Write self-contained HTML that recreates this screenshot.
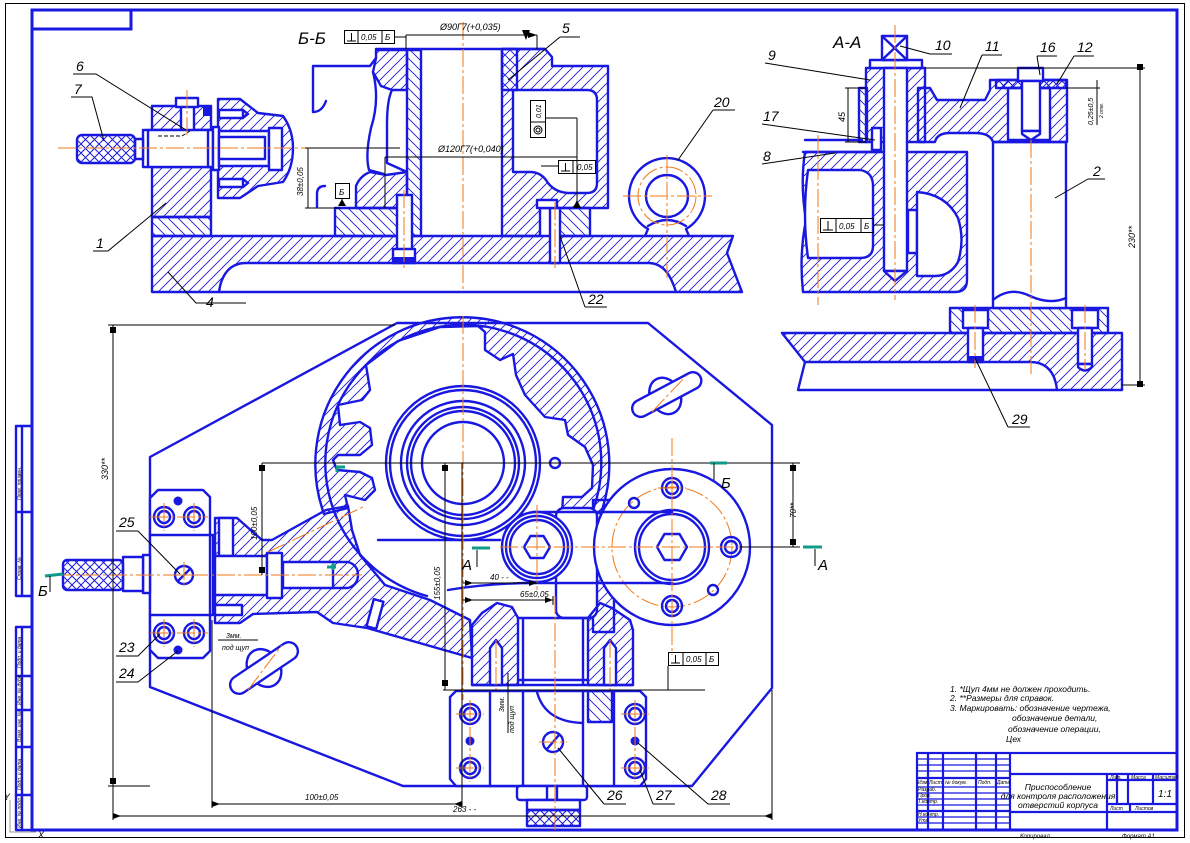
<!DOCTYPE html>
<html><head><meta charset="utf-8">
<style>
html,body{margin:0;padding:0;background:#fff}
svg{display:block}
.b{fill:none;stroke:#1818e0;stroke-width:2.4;stroke-linejoin:round;stroke-linecap:round}
.w{fill:#fff;stroke:#1818e0;stroke-width:2.4;stroke-linejoin:round}
.h{fill:url(#h1);stroke:#1818e0;stroke-width:2.4;stroke-linejoin:round}
.g{fill:url(#h2);stroke:#1818e0;stroke-width:2.4;stroke-linejoin:round}
.x{fill:url(#xx);stroke:#1818e0;stroke-width:2.4;stroke-linejoin:round}
.k{fill:none;stroke:#000;stroke-width:1}
.c{fill:none;stroke:#f07a1a;stroke-width:1;stroke-dasharray:18 3 3 3}
.t{stroke:#109a8a;stroke-width:3;fill:none}
text{font-family:"Liberation Sans","DejaVu Sans",sans-serif;font-style:italic;fill:#000}
.n{font-size:14px}
.s{font-size:8px}
</style></head><body>
<svg width="1190" height="843" viewBox="0 0 1190 843" xmlns="http://www.w3.org/2000/svg">
<defs>
<pattern id="h1" width="10" height="10" patternUnits="userSpaceOnUse"><path d="M-1,11 L11,-1 M-1,1 L1,-1 M9,11 L11,9" stroke="#1818e0" stroke-width="0.9"/></pattern>
<pattern id="h2" width="10" height="10" patternUnits="userSpaceOnUse"><path d="M-1,-1 L11,11 M9,-1 L11,1 M-1,9 L1,11" stroke="#1818e0" stroke-width="0.9"/></pattern>
<pattern id="xx" width="9" height="9" patternUnits="userSpaceOnUse"><path d="M0,0 L9,9 M9,0 L0,9" stroke="#1818e0" stroke-width="1"/></pattern>
</defs>
<rect width="1190" height="843" fill="#fff"/>

<!-- frames -->
<rect x="5.5" y="3.5" width="1179" height="834" class="k"/>
<rect x="32" y="10" width="1145" height="820" fill="none" stroke="#1818e0" stroke-width="3"/>
<path d="M32,29 H131 V10" fill="none" stroke="#1818e0" stroke-width="3"/>
<!-- left sidebar -->
<rect x="16" y="426" width="16" height="170" class="b"/>
<path class="b" d="M22,426 V596 M16,512 H32"/>
<rect x="16" y="627" width="16" height="203" class="b"/>
<path class="b" d="M22,627 V830 M16,676 H32 M16,710 H32 M16,747 H32 M16,795 H32"/>
<text transform="translate(21,500) rotate(-90)" font-size="5">Перв. примен.</text>
<text transform="translate(21,580) rotate(-90)" font-size="5">Справ. №</text>
<text transform="translate(21,668) rotate(-90)" font-size="5">Подп. и дата</text>
<text transform="translate(21,705) rotate(-90)" font-size="5">Инв. № дубл.</text>
<text transform="translate(21,742) rotate(-90)" font-size="5">Взам. инв. №</text>
<text transform="translate(21,790) rotate(-90)" font-size="5">Подп. и дата</text>
<text transform="translate(21,828) rotate(-90)" font-size="5">Инв. № подл.</text>
<path d="M10,800 V832 H36" fill="none" stroke="#999" stroke-width="1"/>
<text x="4" y="800" font-size="9" fill="#888" font-style="normal">Y</text>
<text x="38" y="838" font-size="9" fill="#888" font-style="normal">X</text>

<!-- ================= Section Б-Б ================= -->
<path class="h" d="M152,236 H733 L727,253 L742,292 H676 C671,276 664,263 648,263 H246 C229,263 221,276 219,292 H152 Z"/>
<path class="b" d="M219,292 H676"/>
<rect class="h" x="152" y="167" width="59" height="50"/>
<rect class="g" x="152" y="217" width="59" height="19"/>
<rect class="h" x="152" y="106" width="59" height="24"/>
<rect class="w" x="181" y="106" width="13" height="28"/>
<rect class="w" x="176" y="98" width="22" height="9"/>
<rect x="203" y="107" width="8" height="9" fill="#1818e0"/>
<rect class="w" x="143" y="130" width="70" height="37"/>
<path class="b" d="M148,130 V167 M208,130 V167"/>
<path d="M158,136 H182 L190,131" stroke="#000" stroke-dasharray="4 2" fill="none"/>
<rect class="w" x="135" y="139" width="8" height="20"/>
<rect class="x" x="77" y="135" width="58" height="28" rx="5"/>
<path class="h" d="M218,99 H240 L258,113 L283,116 Q293,130 293,148 Q293,168 283,182 L258,186 L240,198 H218 Z"/>
<rect class="w" x="213" y="127" width="6" height="43"/>
<rect class="w" x="219" y="131" width="50" height="35"/>
<rect class="w" x="219" y="137" width="46" height="22"/>
<rect class="w" x="219" y="110" width="24" height="8"/>
<rect class="w" x="219" y="179" width="24" height="8"/>
<path class="b" d="M243,110 L248,114 L243,118 M243,179 L248,183 L243,187"/>
<rect class="w" x="269" y="128" width="13" height="42"/>
<!-- left housing -->
<path class="h" d="M376,50 H407 V90 H392 L381,86 L373,72 L376,58 Z"/>
<path class="b" d="M313,112 V66 H370 L376,58"/>
<path class="b" d="M313,112 Q322,112 326,101"/>
<path class="b" d="M373,72 Q380,100 371,128 Q365,155 369,170 L384,174"/>
<path class="b" d="M392,90 Q387,100 387,125 V163 L407,172"/>
<path class="h" d="M356,208 V186 Q360,176 370,172 L386,175 L407,172 V208 Z"/>
<rect class="g" x="335" y="208" width="72" height="28"/>
<rect class="g" x="407" y="50" width="14" height="186"/>
<path class="b" d="M376,49 H545"/>
<!-- right housing -->
<path class="h" fill-rule="evenodd" d="M502,49 H545 L552,57 V66 H608 V208 H540 V236 H502 Z M513,90 H587 Q597,90 597,100 V183 Q597,193 587,193 H568 Q553,192 546,180 Q540,172 530,172 H513 Z"/>
<rect class="g" x="502" y="49" width="15" height="41"/>
<rect class="g" x="555" y="208" width="35" height="28"/>
<rect class="w" x="550" y="208" width="10" height="55"/>
<rect class="w" x="537" y="200" width="20" height="8"/>
<rect class="w" x="397" y="195" width="15" height="55"/>
<rect class="w" x="393" y="249" width="22" height="14"/>
<rect x="393" y="257" width="22" height="6" fill="#1818e0"/>
<!-- eyebolt -->
<path class="b" d="M648,229 A38,38 0 1,1 686,229 M648,229 L645,236 M686,229 L689,236 M648,226 Q667,214 686,226"/>
<circle class="b" cx="667" cy="196" r="21"/>
<circle class="c" cx="667" cy="196" r="29"/>
<!-- centerlines -->
<path class="c" d="M58,148 H400 M463,22 V292 M623,196 H712 M667,155 V278 M187,90 V138 M404,190 V268 M555,202 V268"/>
<!-- dims Б-Б -->
<path class="k" d="M406,35 H537 M406,35 V49 M537,35 V49 M395,37 H406"/>
<path d="M528,32 L537,35 L528,38 Z M522,30 L530,30 L526,40 Z" fill="#000"/>
<rect class="k" x="344.5" y="30.5" width="50" height="13"/>
<path class="k" d="M358,30 V43 M382,30 V43 M347,41 H356 M351.5,33 V41"/>
<text x="361" y="40" class="s">0,05</text><text x="385" y="40" class="s">Б</text>
<text x="440" y="30" font-size="9">Ø90Г7(+0,035)</text>
<text x="438" y="152" font-size="9">Ø120Г7(+0,040)</text>
<path class="k" d="M385,157 H577 M385,157 V208 M577,118 V205 M546,118 H577 M541,166 H558"/>
<path d="M573,208 L577,200 L581,208 Z M338,206 L342,199 L346,206 Z" fill="#000"/>
<rect class="k" x="530.5" y="100.5" width="15" height="37"/>
<path class="k" d="M530,122 H546"/>
<circle class="k" cx="538" cy="130" r="4"/><circle class="k" cx="538" cy="130" r="2"/>
<text transform="translate(541,118) rotate(-90)" font-size="7">0,01</text>
<rect class="k" x="558.5" y="160.5" width="37" height="13"/>
<path class="k" d="M573,160 V173 M561,171 H570 M565.5,163 V171"/>
<text x="577" y="170" class="s">0,05</text>
<path class="k" d="M308,148 V208 M305,148 H400 M305,208 H340"/>
<text transform="translate(303,196) rotate(-90)" font-size="8">38±0,05</text>
<rect class="k" x="335.5" y="183.5" width="14" height="15"/>
<text x="339" y="195" class="s">Б</text>
<path class="k" d="M342,199 V206"/>
<path class="b" d="M325,186 Q317,186 317,194 V207"/>
<text x="298" y="44" font-size="17" font-style="normal">Б-Б</text>
<!-- labels Б-Б -->
<text x="76" y="71" class="n">6</text><path class="k" d="M73,74 H96 L186,130"/>
<text x="74" y="94" class="n">7</text><path class="k" d="M71,97 H92 L104,141"/>
<text x="96" y="248" class="n">1</text><path class="k" d="M93,251 H108 L166,203"/>
<text x="206" y="307" class="n">4</text><path class="k" d="M168,272 L196,303 H246"/>
<text x="562" y="33" class="n">5</text><path class="k" d="M560,37 H580 M560,37 L508,80"/>
<text x="714" y="107" class="n">20</text><path class="k" d="M713,110 H735 M713,110 L678,160"/>
<text x="588" y="304" class="n">22</text><path class="k" d="M585,307 H607 M585,307 L560,236"/>

<!-- ================= Section А-А ================= -->
<path class="h" d="M782,333 H1122 V390 H1057 Q1054,362 1030,362 H805 Z"/>
<path class="b" d="M805,362 L798,390 H1057"/>
<rect class="g" x="950" y="308" width="158" height="25"/>
<rect class="w" x="993" y="142" width="73" height="166"/>
<path class="b" d="M993,300 Q1010,286 1030,296 Q1050,305 1066,298"/>
<rect class="w" x="963" y="310" width="25" height="18"/><rect class="w" x="968" y="328" width="15" height="34"/><rect x="968" y="356" width="15" height="6" fill="#1818e0"/>
<rect class="w" x="1072" y="310" width="26" height="18"/><rect class="w" x="1078" y="328" width="14" height="36"/><path class="w" d="M1078,364 H1092 V367 Q1085,374 1078,367 Z"/>
<!-- workpiece -->
<path class="h" d="M805,152 H967 V280 Q967,292 955,292 H803 Q799,255 806,220 Q800,185 805,152 Z"/>
<path class="w" d="M808,170 H860 Q873,172 873,186 V246 Q873,258 860,258 H808 Q802,214 808,170 Z"/>
<rect class="w" x="908" y="210" width="9" height="43"/>
<path class="w" d="M917,192 Q946,194 958,218 Q965,240 958,262 Q950,276 935,276 H917 Z"/>
<path class="b" d="M805,140 H862 M803,152 H880"/>
<!-- part 11 -->
<path class="h" d="M918,88 H930 L937,100 H985 L990,90 V80 H1067 V142 H993 Q990,133 975,133 H950 Q937,133 935,142 H918 Z"/>
<rect class="w" x="1008" y="88" width="42" height="52"/>
<rect class="x" x="996" y="80" width="70" height="8"/>
<rect class="w" x="1018" y="68" width="25" height="13"/>
<rect class="w" x="1022" y="81" width="18" height="50"/>
<path class="w" d="M1022,131 H1040 V134 L1031,140 L1022,134 Z"/>
<!-- bushing 9 & pin -->
<rect class="h" x="866" y="68" width="59" height="74"/>
<rect class="g" x="859" y="88" width="8" height="54"/>
<rect class="w" x="870" y="60" width="52" height="8"/>
<rect class="w" x="882" y="36" width="25" height="24"/>
<path class="b" d="M882,36 L907,60 M907,36 L882,60"/>
<rect class="w" x="884" y="68" width="23" height="203"/>
<path class="w" d="M884,271 H907 L895,281 Z"/>
<rect class="w" x="872" y="128" width="9" height="22"/>
<path class="c" d="M895,25 V300 M1031,140 V375 M818,135 V305 M975,305 V368 M1085,305 V370"/>
<!-- dims A-A -->
<path class="k" d="M925,68 H1145 M1140,68 V385 M1122,385 H1145 M845,88 H866 M845,142 H866 M848,88 V142 M1066,88 H1100 M1097,80 V125"/>
<rect x="1137" y="64" width="6" height="6" fill="#000"/><rect x="1137" y="381" width="6" height="6" fill="#000"/>
<text transform="translate(1135,248) rotate(-90)" font-size="9">230**</text>
<text transform="translate(845,122) rotate(-90)" font-size="9">45</text>
<text transform="translate(1093,125) rotate(-90)" font-size="7">0,25±0,5</text>
<text transform="translate(1103,118) rotate(-90)" font-size="5">2 отв.</text>
<rect class="k" x="820.5" y="218.5" width="53" height="14"/>
<path class="k" d="M836,218 V232 M861,218 V232 M873,225 H884 M823,230 H833 M828,221 V230"/>
<text x="839" y="229" class="s">0,05</text><text x="864" y="229" class="s">Б</text>
<text x="833" y="48" font-size="17" font-style="normal">А-А</text>
<!-- labels A-A -->
<text x="768" y="60" class="n">9</text><path class="k" d="M765,63 L870,80"/>
<text x="935" y="50" class="n">10</text><path class="k" d="M930,54 H952 M930,54 L900,46"/>
<text x="985" y="51" class="n">11</text><path class="k" d="M982,55 H1002 M982,55 L960,108"/>
<text x="1040" y="52" class="n">16</text><path class="k" d="M1037,56 H1057 M1037,56 L1040,75"/>
<text x="1077" y="52" class="n">12</text><path class="k" d="M1074,56 H1094 M1074,56 L1057,84"/>
<text x="763" y="121" class="n">17</text><path class="k" d="M762,124 L875,140"/>
<text x="763" y="161" class="n">8</text><path class="k" d="M762,164 L835,153"/>
<text x="1093" y="176" class="n">2</text><path class="k" d="M1088,179 H1105 M1088,179 L1055,198"/>
<text x="1012" y="424" class="n">29</text><path class="k" d="M1008,427 H1030 M1008,427 L975,358"/>

<!-- ================= Plan view ================= -->
<path class="b" d="M150,457 L397,323 H648 L772,425 V688 L692,786 H403 L150,687 Z"/>
<!-- arm -->
<path class="h" d="M215,518 H237 L262,540 L272,540 L326,510 L348,506 L352,530 L360,555 L385,585 L430,600 L470,620 L472,658 L367,628 L333,623 L317,612 L253,614 L240,623 H215 Z"/>
<!-- housing band -->
<path class="h" d="M324,514 A147,147 0 1,1 601,513 L562,513 L563,497 L582,497 L592,488 L593,465 L585,447 L568,435 L565,420 L545,417 L525,395 L516,375 L513,354 L500,360 L485,350 L485,332 L478,326 L440,327 L398,341 L366,365 L370,390 L362,400 L338,405 L340,425 L360,422 L370,428 L372,445 L360,455 L338,455 L333,460 L337,470 L360,472 L372,478 L375,490 L365,500 L345,495 L348,508 Z"/>
<path class="b" d="M427,596 A138,138 0 1,1 593,510"/>
<path class="b" d="M378,540 H500 M448,590 Q490,583 535,583"/>
<!-- right wall -->
<path class="h" d="M593,500 H614 V632 H593 Z"/>
<rect class="w" x="556" y="508" width="41" height="110" rx="8"/>
<!-- bottom block -->
<path class="h" d="M472,685 V625 L482,613 L497,603 L512,607 L518,618 V685 Z"/>
<path class="h" d="M588,685 V618 L600,603 L612,608 L630,620 L633,630 V685 Z"/>
<path class="b" d="M518,618 H588 M523,618 V685 M583,618 V685 M518,680 H588 M472,685 H633"/>
<path class="w" d="M490,685 V648 L496,640 L502,648 V685 Z"/>
<path class="w" d="M604,685 V648 L610,640 L616,648 V685 Z"/>
<!-- arm details -->
<rect class="w" x="219" y="518" width="14" height="38"/>
<rect class="w" x="215" y="556" width="52" height="39"/>
<rect class="w" x="267" y="553" width="15" height="45"/>
<rect class="w" x="283" y="562" width="50" height="26"/>
<path class="b" d="M333,562 H348 Q358,565 358,575 Q358,585 348,588 H333"/>
<rect class="w" x="215" y="605" width="27" height="10"/>
<rect class="w" x="370" y="600" width="10" height="28" transform="rotate(15 375 614)"/>
<!-- rings -->
<circle class="w" cx="463" cy="463" r="77"/>
<circle class="b" cx="463" cy="463" r="73"/>
<circle class="b" cx="463" cy="463" r="62"/>
<circle class="b" cx="463" cy="463" r="56"/>
<circle class="b" cx="463" cy="463" r="52"/>
<circle class="b" cx="463" cy="463" r="41"/>
<circle class="b" cx="555" cy="463" r="5"/>
<!-- disk -->
<circle class="w" cx="672" cy="547" r="78"/>
<circle class="c" cx="672" cy="547" r="60"/>
<circle class="b" cx="672" cy="547" r="37"/><circle class="b" cx="672" cy="547" r="33"/>
<polygon class="b" points="687,547 679.5,560 664.5,560 657,547 664.5,534 679.5,534"/>
<g class="b">
<circle cx="672" cy="488" r="10"/><circle cx="672" cy="488" r="6"/>
<circle cx="672" cy="606" r="10"/><circle cx="672" cy="606" r="6"/>
<circle cx="731" cy="547" r="10"/><circle cx="731" cy="547" r="6"/>
<circle cx="634" cy="503" r="5"/><circle cx="713" cy="590" r="5"/>
</g>
<path class="b" d="M533,512 H672 M535,583 H672"/>
<!-- roller -->
<circle class="w" cx="537" cy="547" r="35"/>
<circle class="b" cx="537" cy="547" r="31"/><circle class="b" cx="537" cy="547" r="27"/>
<polygon class="b" points="550,547 543.5,558 530.5,558 524,547 530.5,536 543.5,536"/>
<!-- left clamp block -->
<path class="w" d="M158,490 H203 L210,497 V651 L203,658 H158 L150,650 V498 Z"/>
<path class="b" d="M150,535 H213 V615 H150"/>
<rect class="w" x="143" y="555" width="7" height="38"/>
<rect class="w" x="123" y="557" width="20" height="34"/>
<rect class="x" x="63" y="560" width="60" height="30" rx="4"/>
<g class="b">
<circle cx="164" cy="517" r="10"/><circle cx="164" cy="517" r="6"/>
<circle cx="194" cy="517" r="10"/><circle cx="194" cy="517" r="6"/>
<circle cx="164" cy="633" r="10"/><circle cx="164" cy="633" r="6"/>
<circle cx="194" cy="633" r="10"/><circle cx="194" cy="633" r="6"/>
<circle cx="184" cy="575" r="9"/>
<path d="M178,581 L190,569"/>
</g>
<circle cx="178" cy="501" r="4.5" fill="#1818e0"/><circle cx="178" cy="650" r="4.5" fill="#1818e0"/>
<!-- bottom clamp plate -->
<path class="w" d="M456,691 H640 L646,697 V779 L640,786 H456 L450,779 V697 Z"/>
<path class="b" d="M490,691 V786 M523,691 V786 M583,691 V786 M614,691 V786"/>
<path class="b" d="M537,692 Q545,722 583,723"/>
<path class="g" d="M588,691 H612 V722 L588,722 Z"/>
<g class="b">
<circle cx="470" cy="714" r="10"/><circle cx="470" cy="714" r="6"/>
<circle cx="470" cy="768" r="10"/><circle cx="470" cy="768" r="6"/>
<circle cx="635" cy="714" r="10"/><circle cx="635" cy="714" r="6"/>
<circle cx="635" cy="768" r="10"/><circle cx="635" cy="768" r="6"/>
<circle cx="553" cy="742" r="10"/>
<path d="M547,749 L559,735"/>
</g>
<circle cx="470" cy="741" r="4.5" fill="#1818e0"/><circle cx="635" cy="741" r="4.5" fill="#1818e0"/>
<rect class="w" x="517" y="786" width="70" height="14" rx="3"/>
<path class="b" d="M547,786 V800 M557,786 V800"/>
<rect class="w" x="527" y="800" width="53" height="10"/>
<rect class="x" x="527" y="810" width="53" height="16"/>
<!-- T-handles -->
<g transform="rotate(-34 264 668)">
<ellipse class="w" cx="264" cy="668" rx="16" ry="20"/>
<rect class="w" x="225" y="659" width="78" height="18" rx="9"/>
</g>
<g transform="rotate(-28 667 395)">
<ellipse class="w" cx="665" cy="395" rx="15" ry="19"/>
<rect class="w" x="629" y="386" width="76" height="17" rx="8.5"/>
</g>
<!-- centerlines plan -->
<path class="c" d="M55,575 H362 M463,316 V700 M330,463 H612 M672,438 V655 M500,547 H790 M537,505 V590 M555,596 V832 M268,552 L363,507 M184,562 V588 M172,575 H196 M164,503 V531 M194,503 V531 M150,517 H208 M164,619 V647 M194,619 V647 M150,633 H208 M470,700 V782 M635,700 V782 M456,714 H484 M456,768 H484 M621,714 H649 M621,768 H649 M539,742 H567 M672,474 V502 M658,488 H686 M496,640 V690 M610,640 V690 M248,690 L282,645 M652,412 L686,376"/>
<!-- dims plan -->
<path class="k" d="M113,325 V786 M108,325 H395 M108,786 H150 M113,816 H772 M113,786 V820 M772,690 V820 M212,620 V808 M212,804 H462 M462,463 V808 M262,463 H800 M262,463 V575 M445,463 V690 M463,583 H537 M463,600 H553 M553,596 V605 M793,463 V547 M740,547 H800 M443,690 H705 M668,666 V690 M218,640 H258 M508,673 V733"/>
<path d="M110,327 h6 v6 h-6 Z M110,778 h6 v6 h-6 Z M113,813 l8,3 l-8,3 Z M772,813 l-8,3 l8,3 Z M212,801 l8,3 l-8,3 Z M462,801 l-8,3 l8,3 Z M790,465 h6 v6 h-6 Z M790,539 h6 v6 h-6 Z M259,465 h6 v6 h-6 Z M259,567 h6 v6 h-6 Z M442,465 h6 v6 h-6 Z M442,680 h6 v6 h-6 Z M465,580 l8,3 l-8,3 Z M529,580 l8,3 l-8,3 Z M465,597 l8,3 l-8,3 Z M545,597 l8,3 l-8,3 Z" fill="#000"/>
<text transform="translate(108,480) rotate(-90)" font-size="9">330**</text>
<text x="305" y="800" font-size="8">100±0,05</text>
<text x="453" y="812" font-size="8">263 - -</text>
<text transform="translate(257,540) rotate(-90)" font-size="8">100±0,05</text>
<text transform="translate(440,600) rotate(-90)" font-size="8">155±0,05</text>
<text transform="translate(796,518) rotate(-90)" font-size="8">70**</text>
<text x="490" y="580" font-size="8">40 - -</text>
<text x="520" y="597" font-size="8">65±0,05</text>
<rect class="k" x="668.5" y="652.5" width="50" height="13"/>
<path class="k" d="M683,652 V665 M706,652 V665 M671,663 H680 M675.5,655 V663"/>
<text x="686" y="662" class="s">0,05</text><text x="709" y="662" class="s">Б</text>
<text x="226" y="638" font-size="7">3мм.</text>
<text x="222" y="650" font-size="7">под щуп</text>
<text transform="translate(504,712) rotate(-90)" font-size="7">3мм.</text>
<text transform="translate(514,733) rotate(-90)" font-size="7">под щуп</text>
<!-- section markers -->
<path class="t" d="M45,576 L63,574"/><path class="k" d="M50,576 V592"/>
<text x="38" y="596" font-size="15" font-style="normal">Б</text>
<path class="t" d="M710,463 H727"/><path class="k" d="M714,463 V480"/>
<text x="721" y="488" font-size="15" font-style="normal">Б</text>
<path class="t" d="M472,548 H490"/><path class="k" d="M477,550 V567"/>
<text x="462" y="570" font-size="15" font-style="normal">А</text>
<path class="t" d="M803,547 H822"/><path class="k" d="M815,549 V566"/>
<text x="818" y="570" font-size="15" font-style="normal">А</text>
<path class="t" d="M336,467 H345 M337,467 V472 M327,567 H336 M333,563 V570"/>
<!-- labels plan -->
<text x="119" y="527" class="n">25</text><path class="k" d="M116,531 H138 L180,574"/>
<text x="119" y="652" class="n">23</text><path class="k" d="M116,656 H138 L160,634"/>
<text x="119" y="678" class="n">24</text><path class="k" d="M116,682 H138 L178,651"/>
<text x="607" y="800" class="n">26</text><path class="k" d="M604,804 H626 M604,804 L558,748"/>
<text x="656" y="800" class="n">27</text><path class="k" d="M653,804 H675 M653,804 L640,770"/>
<text x="711" y="800" class="n">28</text><path class="k" d="M708,804 H730 M708,804 L638,743"/>

<!-- ================= Notes ================= -->
<text x="950" y="692" font-size="8.5">1. *Щуп 4мм не должен проходить.</text>
<text x="950" y="701" font-size="8.5">2. **Размеры для справок.</text>
<text x="950" y="711" font-size="8.5">3. Маркировать: обозначение чертежа,</text>
<text x="1012" y="721" font-size="8.5">обозначение детали,</text>
<text x="1008" y="732" font-size="8.5">обозначение операции,</text>
<text x="1006" y="742" font-size="8.5">Цех</text>

<!-- ================= Title block ================= -->
<g fill="none" stroke="#1818e0" stroke-width="2.2">
<rect x="917" y="753" width="260" height="77"/>
<path d="M928,753 V830 M943,753 V830 M976,753 V830 M996,753 V830 M1010,753 V830"/>
<path d="M1010,774 H1177 M1010,812 H1177 M1107,774 V830"/>
<path d="M1107,780 H1177 M1117,774 V804 M1128,774 V804 M1153,774 V804 M1107,804 H1177 M1130,804 V812"/>
</g>
<g fill="none" stroke="#1818e0" stroke-width="1.2">
<path d="M917,759 H1010 M917,765 H1010 M917,771 H1010 M917,787 H1010 M917,793 H1010 M917,799 H1010 M917,805 H1010 M917,817 H1010 M917,823 H1010"/>
</g>
<path d="M917,778 H1010 M917,811 H1010" stroke="#1818e0" stroke-width="2.2"/>
<g font-size="5">
<text x="918" y="784">Изм</text><text x="929" y="784">Лист</text><text x="945" y="784">№ докум.</text><text x="978" y="784">Подп.</text><text x="997" y="784">Дата</text>
<text x="918" y="791">Разраб.</text><text x="918" y="797">Пров.</text><text x="918" y="803">Т.контр.</text>
<text x="918" y="816">Н.контр.</text><text x="918" y="822">Утв.</text>
<text x="1110" y="779">Лит.</text><text x="1131" y="779">Масса</text><text x="1155" y="779">Масштаб</text>
<text x="1110" y="810">Лист</text><text x="1135" y="810">Листов</text>
</g>
<text x="1058" y="790" font-size="8.5" text-anchor="middle">Приспособление</text>
<text x="1058" y="799" font-size="8.5" text-anchor="middle">для контроля расположения</text>
<text x="1058" y="808" font-size="8.5" text-anchor="middle">отверстий корпуса</text>
<text x="1158" y="797" font-size="10">1:1</text>
<text x="1020" y="838" font-size="6">Копировал</text>
<text x="1122" y="838" font-size="6">Формат А1</text>
</svg>
</body></html>
